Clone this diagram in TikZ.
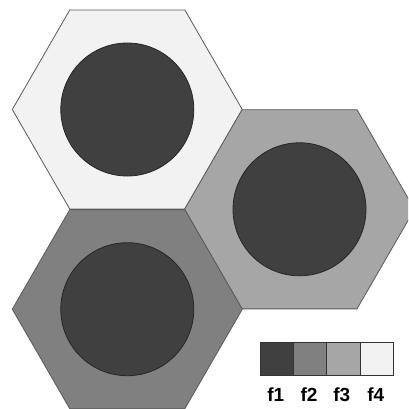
\documentclass[tikz,border=0pt]{standalone}
\usepackage{fontspec}
\setmainfont{Liberation Sans}
\definecolor{fone}{HTML}{404040}
\definecolor{ftwo}{HTML}{808080}
\definecolor{fthree}{HTML}{A6A6A6}
\definecolor{ffour}{HTML}{F2F2F2}
\definecolor{edge}{HTML}{5A5A5A}
\begin{document}
\begin{tikzpicture}[x=1pt,y=-1pt,
  hexa/.style={draw=edge,line width=0.8pt,line join=miter},
  core/.style={draw=black!85,fill=fone,line width=0.8pt},
  swatch/.style={draw=black!80,line width=0.8pt,minimum size=33.3pt,inner sep=0pt,outer sep=0pt},
  lab/.style={font=\fontsize{19}{21}\selectfont\bfseries,inner sep=0pt,anchor=base}]
\useasboundingbox (0,0) rectangle (408,409);
\begin{scope}
\clip (0,0) rectangle (408,409);
% hexagons
\coordinate (ht) at (127.3,109.5);
\coordinate (hr) at (299.5,209.3);
\coordinate (hb) at (127.3,309.2);
\foreach \c/\col in {ht/ffour,hr/fthree,hb/ftwo}{
  \filldraw[hexa,fill=\col] (\c) ++(0:115) -- ++(120:115) -- ++(180:115) -- ++(240:115) -- ++(300:115) -- ++(0:115) -- cycle;
  \filldraw[core] (\c) circle[radius=66.5];
}
\end{scope}
% legend
\node[swatch,fill=fone,anchor=north west] (s1) at (260,342.3) {};
\node[swatch,fill=ftwo,anchor=west] (s2) at (s1.east) {};
\node[swatch,fill=fthree,anchor=west] (s3) at (s2.east) {};
\node[swatch,fill=ffour,anchor=west] (s4) at (s3.east) {};
\node[lab] (l1) at (275.7,401.7) {f1};
\node[lab] (l2) at (309.0,401.7) {f2};
\node[lab] (l3) at (341.7,401.7) {f3};
\node[lab] (l4) at (375.7,401.7) {f4};
\end{tikzpicture}
\end{document}
